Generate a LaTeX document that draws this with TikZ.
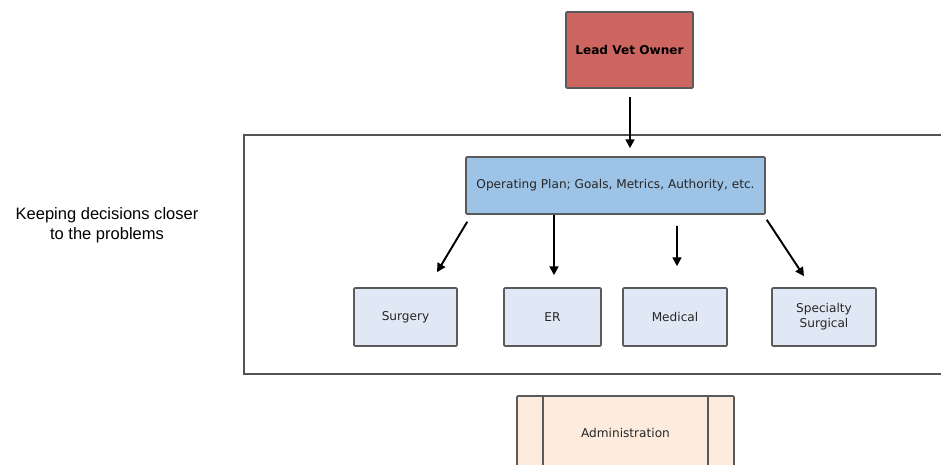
\documentclass[tikz,border=0pt]{standalone}
\usepackage{fontspec}
\setmainfont{Liberation Sans}
\newfontfamily\boxfont{DejaVu Sans}
\usetikzlibrary{arrows.meta}

\definecolor{leadred}{HTML}{CD6660}
\definecolor{planblue}{HTML}{9DC3E6}
\definecolor{deptblue}{HTML}{DFE8F4}
\definecolor{adminpeach}{HTML}{FDECDE}
\definecolor{edgegray}{HTML}{5A5A5A}

\begin{document}
\begin{tikzpicture}[
  x=0.02cm, y=-0.02cm,
  every node/.style={font=\boxfont\fontsize{6.9}{8.4}\selectfont, align=center, text=black!85},
  box/.style={rectangle, draw=edgegray, line width=0.9pt, rounded corners=0.6pt, inner sep=0pt},
  dept/.style={box, fill=deptblue, minimum width=2.06cm, minimum height=1.16cm},
  arr/.style={-{Triangle[length=5pt, width=5pt]}, line width=1.1pt, black}
]
\useasboundingbox (0,0) rectangle (941,465);

% outer frame, runs off the right edge
\draw[line width=1.2pt, gray!65!black] (960,135) -| (244,374) -- (960,374);

\node[box, fill=leadred, minimum width=2.54cm, minimum height=1.52cm,
      font=\boxfont\bfseries\fontsize{6.9}{8.4}\selectfont, text=black] (lead) at (629.5,50) {Lead Vet Owner};
\node[box, fill=planblue, minimum width=5.98cm, minimum height=1.14cm] (plan) at (615.5,185.5)
  {Operating Plan; Goals, Metrics, Authority, etc.};

\node[dept] (surgery) at (405.5,317) {Surgery};
\node[dept, minimum width=1.94cm] (er) at (552.5,317) {ER};
\node[dept, minimum width=2.08cm] (medical) at (675,317) {Medical};
\node[dept, minimum width=2.08cm] (specialty) at (824,317) {Specialty\\Surgical};

\node[box, fill=adminpeach, minimum width=4.34cm, minimum height=1.48cm] (admin) at (625.5,433) {Administration};
\draw[edgegray, line width=0.9pt] ([xshift=0.54cm]admin.north west) -- ([xshift=0.54cm]admin.south west);
\draw[edgegray, line width=0.9pt] ([xshift=-0.54cm]admin.north east) -- ([xshift=-0.54cm]admin.south east);

\node[font=\fontsize{9.4}{11.3}\selectfont, text=black] (note) at (107,225) {Keeping decisions closer\\to the problems};

\draw[arr] ([shift={(0.5,8)}]lead.south) -- ([shift={(14.5,-8)}]plan.north);
\draw[arr] ([shift={(2,7)}]plan.south west) -- ([shift={(31.5,-15)}]surgery.north);
\draw[arr] ([shift={(-61.5,0)}]plan.south) -- ([shift={(1.5,-12)}]er.north);
\draw[arr] ([shift={(61.5,11)}]plan.south) -- ([shift={(2,-21)}]medical.north);
\draw[arr] ([shift={(1,5)}]plan.south east) -- ([shift={(-20,-11)}]specialty.north);
\end{tikzpicture}
\end{document}
